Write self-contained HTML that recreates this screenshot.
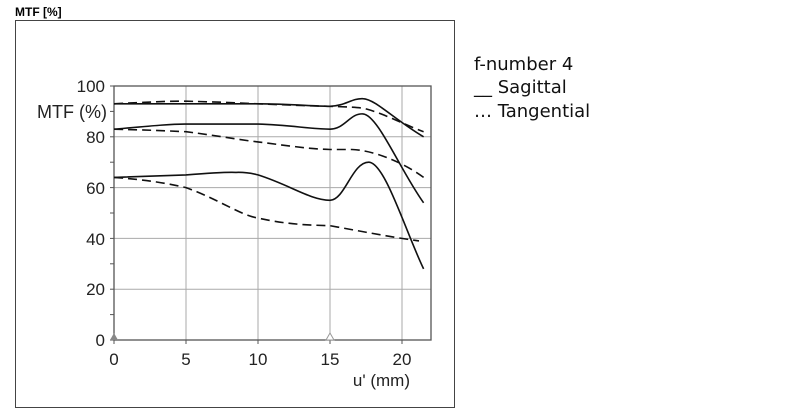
<!DOCTYPE html>
<html><head><style>
body{margin:0;background:#fff;width:800px;height:415px;overflow:hidden}
</style></head><body>
<svg width="800" height="415" xmlns="http://www.w3.org/2000/svg" font-family="Liberation Sans, Arial, sans-serif">
<text x="15" y="16" font-size="12" font-weight="bold">MTF [%]</text>
<rect x="15.5" y="20.5" width="439" height="387" fill="none" stroke="#444" stroke-width="1"/>
<g stroke="#aaa" stroke-width="1">
<line x1="186" y1="86" x2="186" y2="340"/><line x1="258" y1="86" x2="258" y2="340"/>
<line x1="330" y1="86" x2="330" y2="340"/><line x1="402" y1="86" x2="402" y2="340"/>
<line x1="114" y1="136.8" x2="431" y2="136.8"/><line x1="114" y1="187.6" x2="431" y2="187.6"/>
<line x1="114" y1="238.4" x2="431" y2="238.4"/><line x1="114" y1="289.2" x2="431" y2="289.2"/>
</g>
<rect x="114" y="86" width="317" height="254" fill="none" stroke="#555" stroke-width="1.3"/>
<g stroke="#555" stroke-width="1">
<line x1="110" y1="86" x2="114" y2="86"/><line x1="110" y1="111.4" x2="114" y2="111.4"/>
<line x1="110" y1="136.8" x2="114" y2="136.8"/><line x1="110" y1="162.2" x2="114" y2="162.2"/>
<line x1="110" y1="187.6" x2="114" y2="187.6"/><line x1="110" y1="213" x2="114" y2="213"/>
<line x1="110" y1="238.4" x2="114" y2="238.4"/><line x1="110" y1="263.8" x2="114" y2="263.8"/>
<line x1="110" y1="289.2" x2="114" y2="289.2"/><line x1="110" y1="314.6" x2="114" y2="314.6"/>
<line x1="110" y1="340" x2="114" y2="340"/>
<line x1="114" y1="340" x2="114" y2="344"/><line x1="186" y1="340" x2="186" y2="344"/>
<line x1="258" y1="340" x2="258" y2="344"/><line x1="330" y1="340" x2="330" y2="344"/>
<line x1="402" y1="340" x2="402" y2="344"/>
</g>
<polygon points="114,333 110,340 118,340" fill="#888"/>
<polygon points="330,333 326,340 334,340" fill="#fff" stroke="#999"/>
<g font-size="17" fill="#222" text-anchor="end">
<text x="105" y="92">100</text><text x="105" y="143">80</text><text x="105" y="194">60</text>
<text x="105" y="245">40</text><text x="105" y="295">20</text><text x="105" y="346">0</text>
</g>
<text x="107" y="118" font-size="18" fill="#222" text-anchor="end">MTF (%)</text>
<g font-size="17" fill="#222" text-anchor="middle">
<text x="114" y="365">0</text><text x="186" y="365">5</text><text x="258" y="365">10</text>
<text x="330" y="365">15</text><text x="402" y="365">20</text>
</g>
<text x="410" y="386" font-size="17" fill="#222" text-anchor="end">u' (mm)</text>
<g fill="none" stroke="#111" stroke-width="1.6">
<path d="M114,103.8 L258,103.8 C290,104 310,106 330,106.3 C345,106 352,98 363,98.7 C375,99 395,120 423.6,136.8"/>
<path d="M114,129.2 C150,126 170,124 186,124.1 L258,124.1 C290,125 310,129 330,129.2 C345,129 350,113 363,113.9 C378,115 400,170 423.6,202.8"/>
<path d="M114,177.4 L186,174.9 C210,173 228,172 236,172.4 C248,172 254,174 258,174.9 C290,185 310,200 330,200.3 C345,200 352,162 368.9,162.2 C385,163 405,230 423.6,268.9"/>
</g>
<g fill="none" stroke="#111" stroke-width="1.6" stroke-dasharray="9,5">
<path d="M114,103.8 C150,102 170,101 186,101.2 C220,102 240,103 258,103.8 C290,105 310,106 330,106.3 C345,107 360,107 366,108.9 C385,114 405,125 423.6,131.7"/>
<path d="M114,129.2 C150,130 170,131 186,131.7 C220,136 240,140 258,141.9 C290,146 310,149 330,149.5 L352,149.5 C370,150 400,160 423.6,177.4"/>
<path d="M114,177.4 C150,180 170,184 186,187.6 C220,200 240,215 258,218.1 C290,225 310,225 330,225.7 C360,231 390,237 419,240.9"/>
</g>
<g font-family="DejaVu Sans, Liberation Sans, sans-serif" font-size="18" fill="#111">
<text x="474" y="70">f-number 4</text>
<text x="474" y="93">__ Sagittal</text>
<text x="474" y="117">… Tangential</text>
</g>
</svg>
</body></html>
